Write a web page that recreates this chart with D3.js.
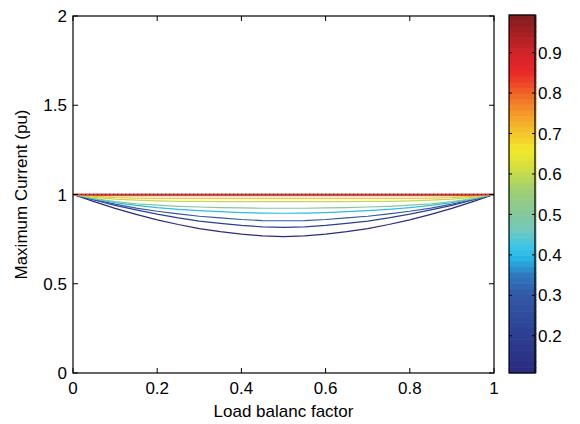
<!DOCTYPE html>
<html>
<head>
<meta charset="utf-8">
<script src="https://cdn.jsdelivr.net/npm/d3@7"></script>
<style>
  html, body { margin: 0; padding: 0; background: #fff; }
  svg { display: block; }
  text { font-family: "Liberation Sans", Arial, sans-serif; fill: #000; }
</style>
</head>
<body>
<svg id="chart" width="580" height="424"></svg>
<script>
// ---------------- data ----------------
const xValues = [0, 0.05, 0.1, 0.15, 0.2, 0.25, 0.3, 0.35, 0.4, 0.45, 0.5,
                 0.55, 0.6, 0.65, 0.7, 0.75, 0.8, 0.85, 0.9, 0.95, 1];
const levels = [0.1, 0.2, 0.3, 0.4, 0.5, 0.6, 0.7, 0.8, 0.9, 0.99];

const curve01 = [1, .960, .922, .889, .858, .832, .809, .792, .778, .768, .764, .768, .778, .792, .809, .832, .858, .889, .922, .960, 1];
const curve02 = [1, .969, .939, .914, .890, .869, .851, .838, .827, .819, .816, .819, .827, .838, .851, .869, .890, .914, .939, .969, 1];
const curve03 = [1, .971, .946, .924, .906, .891, .878, .869, .860, .854, .853, .854, .860, .869, .878, .891, .906, .924, .946, .971, 1];
const curve04 = [1, .975, .955, .939, .926, .917, .910, .904, .899, .896, .895, .896, .899, .904, .910, .917, .926, .939, .955, .975, 1];
const curve05 = [1, .977, .960, .948, .940, .934, .930, .927, .925, .923, .923, .923, .925, .927, .930, .934, .940, .948, .960, .977, 1];
const curve06 = [1, .984, .974, .968, .964, .962, .961, .960, .960, .960, .960, .960, .960, .960, .961, .962, .964, .968, .974, .984, 1];
const curve07 = [1, .989, .982, .980, .978, .978, .978, .978, .978, .978, .978, .978, .978, .978, .978, .978, .978, .980, .982, .989, 1];
const curve08 = [1, .995, .993, .993, .993, .993, .993, .993, .993, .993, .993, .993, .993, .993, .993, .993, .993, .993, .993, .995, 1];
const curve09 = [1, .999, .998, .998, .998, .998, .998, .998, .998, .998, .998, .998, .998, .998, .998, .998, .998, .998, .998, .999, 1];
const curve10 = [1, 1, 1, 1, 1, 1, 1, 1, 1, 1, 1, 1, 1, 1, 1, 1, 1, 1, 1, 1, 1];
const curves = [curve01, curve02, curve03, curve04, curve05, curve06, curve07, curve08, curve09, curve10];

const xTicks = [0, 0.2, 0.4, 0.6, 0.8, 1];
const xTickLabels = ["0", "0.2", "0.4", "0.6", "0.8", "1"];
const yTicks = [0, 0.5, 1, 1.5, 2];
const yTickLabels = ["0", "0.5", "1", "1.5", "2"];
const cbTicks = [0.2, 0.3, 0.4, 0.5, 0.6, 0.7, 0.8, 0.9];
const cbTickLabels = ["0.2", "0.3", "0.4", "0.5", "0.6", "0.7", "0.8", "0.9"];
const cbRange = [0.108, 0.993];
const xLabel = "Load balanc factor";
const yLabel = "Maximum Current (pu)";

// colormap stops (value -> colour), jet-like
const cmapValues = [0.108, 0.2, 0.3, 0.35, 0.39, 0.42, 0.46, 0.5, 0.56, 0.62, 0.66, 0.7, 0.75, 0.8, 0.85, 0.9, 0.993];
const cmapColors = ["#2b2a7c", "#2d3f92", "#3358a6", "#2f78c0", "#29b3e6", "#3cc4e8", "#72c8c0", "#84c89a", "#9fcf73",
                    "#d7e03c", "#f2e82c", "#f5c72b", "#f39a2a", "#f06428", "#ea2828", "#d0232a", "#7e1c1e"];

// ---------------- layout ----------------
const svg = d3.select("#chart");
const plot = { left: 73, right: 494, top: 16, bottom: 373 };
const cb = { left: 509, right: 535, top: 15, bottom: 373 };
const fontSize = 17;

const x = d3.scaleLinear().domain([0, 1]).range([plot.left, plot.right]);
const y = d3.scaleLinear().domain([0, 2]).range([plot.bottom, plot.top]);
const color = d3.scaleLinear().domain(cmapValues).range(cmapColors).interpolate(d3.interpolateRgb).clamp(true);

// ---------------- contour lines ----------------
const line = d3.line().x((d, i) => x(xValues[i])).y(d => y(d));
const g = svg.append("g");
curves.forEach((c, k) => {
  const col = color(levels[k]);
  if (k === curves.length - 1) {
    g.append("path").attr("d", line(c)).attr("fill", "none")
      .attr("stroke", "#c0504a").attr("stroke-width", 2.2);
    g.append("path").attr("d", line(c)).attr("fill", "none")
      .attr("stroke", "#5a0e10").attr("stroke-width", 1.2).attr("stroke-dasharray", "1,3");
  } else {
    g.append("path").attr("d", line(c)).attr("fill", "none")
      .attr("stroke", col).attr("stroke-width", 1.2);
  }
});

// ---------------- axes ----------------
const tickLen = 5;
const axG = svg.append("g");
axG.append("rect").attr("x", plot.left).attr("y", plot.top)
  .attr("width", plot.right - plot.left).attr("height", plot.bottom - plot.top)
  .attr("fill", "none").attr("stroke", "#000").attr("stroke-width", 1.2);

xTicks.forEach((t, i) => {
  const px = x(t);
  axG.append("line").attr("x1", px).attr("x2", px).attr("y1", plot.bottom).attr("y2", plot.bottom - tickLen).attr("stroke", "#000");
  axG.append("line").attr("x1", px).attr("x2", px).attr("y1", plot.top).attr("y2", plot.top + tickLen).attr("stroke", "#000");
  axG.append("text").attr("x", px).attr("y", plot.bottom + 21).attr("text-anchor", "middle")
    .attr("font-size", fontSize).text(xTickLabels[i]);
});
yTicks.forEach((t, i) => {
  const py = y(t);
  axG.append("line").attr("x1", plot.left).attr("x2", plot.left + tickLen).attr("y1", py).attr("y2", py).attr("stroke", "#000");
  axG.append("line").attr("x1", plot.right).attr("x2", plot.right - tickLen).attr("y1", py).attr("y2", py).attr("stroke", "#000");
  axG.append("text").attr("x", plot.left - 6).attr("y", py).attr("dy", "0.36em").attr("text-anchor", "end")
    .attr("font-size", fontSize).text(yTickLabels[i]);
});

svg.append("text").attr("x", (plot.left + plot.right) / 2).attr("y", 417).attr("text-anchor", "middle")
  .attr("font-size", 17).text(xLabel);
svg.append("text").attr("transform", `translate(27,${y(1)}) rotate(-90)`).attr("text-anchor", "middle")
  .attr("font-size", 17).text(yLabel);

// ---------------- colorbar ----------------
const cy = d3.scaleLinear().domain(cbRange).range([cb.bottom, cb.top]);
const nBands = 64;
const bandVals = d3.range(nBands).map(i => cbRange[0] + (i + 0.5) * (cbRange[1] - cbRange[0]) / nBands);
const bandH = (cb.bottom - cb.top) / nBands;
svg.append("g").selectAll("rect").data(bandVals).join("rect")
  .attr("x", cb.left).attr("width", cb.right - cb.left + 1.5)
  .attr("y", d => cy(d) - bandH / 2 - 0.3).attr("height", bandH + 0.6)
  .attr("fill", d => color(d));
svg.append("rect").attr("x", cb.left).attr("y", cb.top).attr("width", cb.right - cb.left).attr("height", cb.bottom - cb.top)
  .attr("fill", "none").attr("stroke", "#000").attr("stroke-width", 1.2);
cbTicks.forEach((t, i) => {
  const py = cy(t);
  svg.append("line").attr("x1", cb.left).attr("x2", cb.left + 3).attr("y1", py).attr("y2", py).attr("stroke", "#000");
  svg.append("line").attr("x1", cb.right).attr("x2", cb.right - 3).attr("y1", py).attr("y2", py).attr("stroke", "#000");
  svg.append("text").attr("x", cb.right + 3).attr("y", py).attr("dy", "0.36em")
    .attr("font-size", fontSize).text(cbTickLabels[i]);
});
</script>
</body>
</html>
